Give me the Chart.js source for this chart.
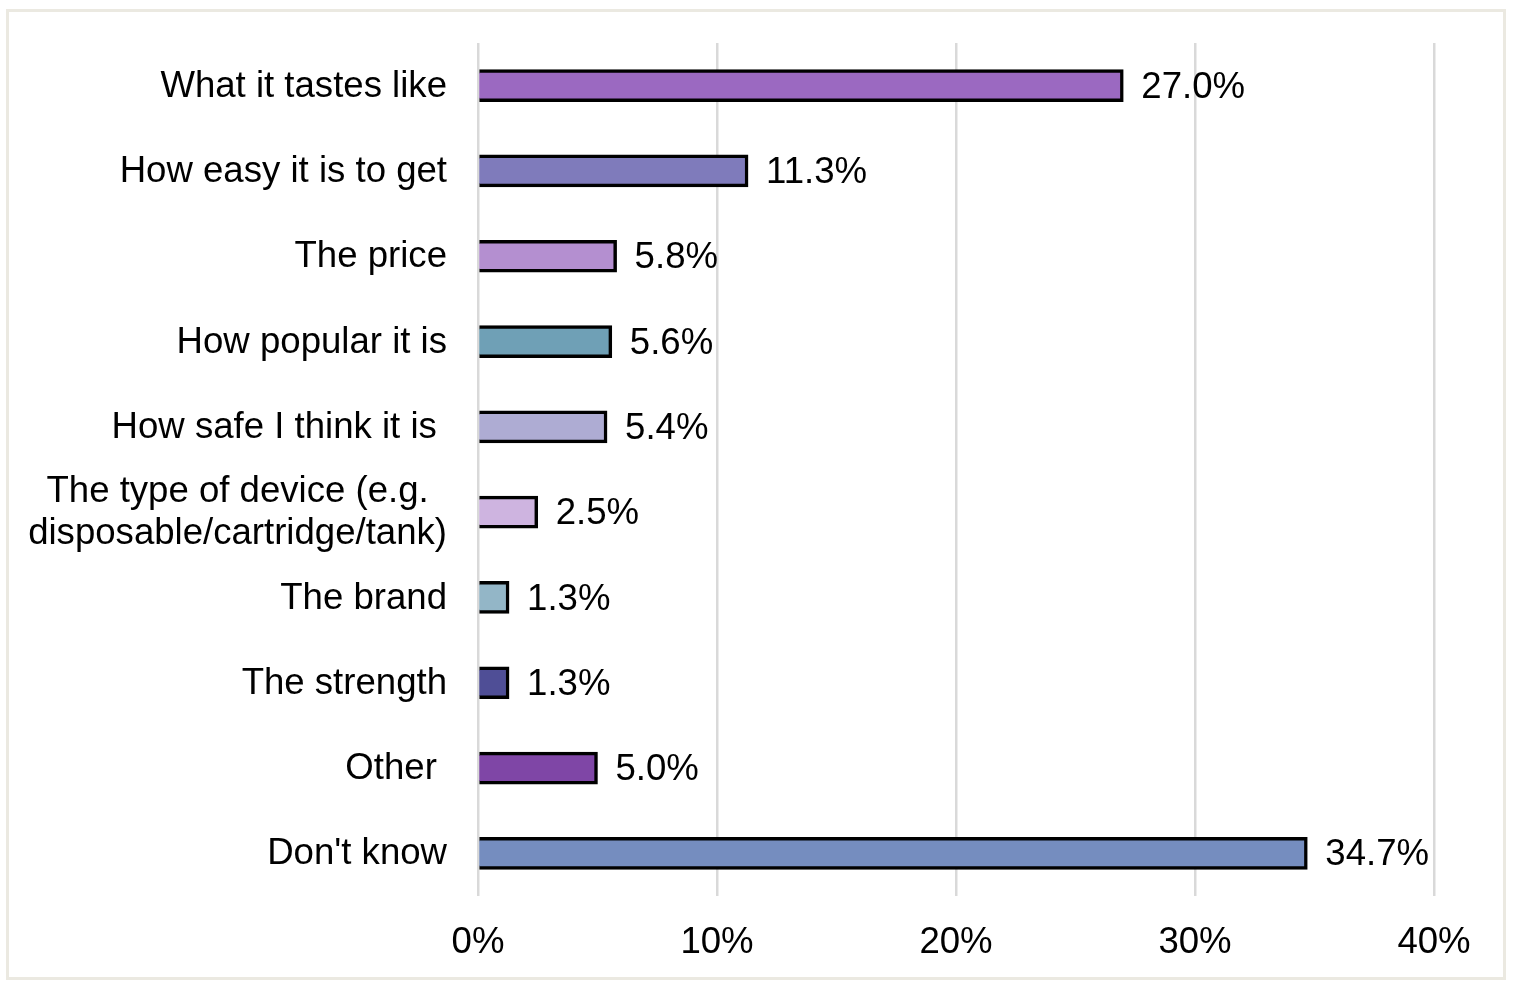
<!DOCTYPE html>
<html>
<head>
<meta charset="utf-8">
<script src="https://cdn.jsdelivr.net/npm/chart.js@4"></script>
<style>
  html, body { margin: 0; padding: 0; background: #fff; }
  #wrap { position: relative; width: 1514px; height: 990px; }
  #frame {
    position: absolute; left: 6px; top: 9px; width: 1500px; height: 971px;
    box-sizing: border-box; border: 3px solid #ebe9e1; pointer-events: none;
  }
  canvas { position: absolute; left: 0; top: 0; }
</style>
</head>
<body>
<div id="wrap">
  <canvas id="chart" width="1514" height="990"></canvas>
  <div id="frame"></div>
</div>
<script>
// Chart data
const categories = [
  'What it tastes like',
  'How easy it is to get',
  'The price',
  'How popular it is',
  'How safe I think it is ',
  ['The type of device (e.g.', 'disposable/cartridge/tank)'],
  'The brand',
  'The strength',
  'Other ',
  "Don't know"
];
const values = [27.0, 11.3, 5.8, 5.6, 5.4, 2.5, 1.3, 1.3, 5.0, 34.7];
const barColors = [
  '#9b69c1', '#7f7bbb', '#b48fd0', '#6fa0b6', '#aeacd3',
  '#ceb4e0', '#93b6c7', '#4f4e96', '#7f46a6', '#758dbf'
];
const xTicks = [0, 10, 20, 30, 40];

const FONT = '"Liberation Sans", Arial, sans-serif';
const FONT_SIZE = 36.6;

// Category labels: right aligned, wrapped labels centred as a block
const categoryLabels = {
  id: 'categoryLabels',
  afterDraw(chart) {
    const { ctx, scales } = chart;
    const y = scales.y;
    const right = chart.chartArea.left - 31;
    ctx.save();
    ctx.font = FONT_SIZE + 'px ' + FONT;
    ctx.fillStyle = '#000';
    ctx.textBaseline = 'middle';
    categories.forEach((label, i) => {
      const cy = y.getPixelForValue(i) + 1;
      if (Array.isArray(label)) {
        const w = Math.max(...label.map(l => ctx.measureText(l).width));
        const cx = right - w / 2;
        const lh = 42;
        ctx.textAlign = 'center';
        label.forEach((line, j) => {
          ctx.fillText(line, cx, cy + (j - (label.length - 1) / 2) * lh);
        });
      } else {
        ctx.textAlign = 'right';
        ctx.fillText(label, right, cy);
      }
    });
    ctx.restore();
  }
};

// Value labels at the end of each bar
const valueLabels = {
  id: 'valueLabels',
  afterDatasetsDraw(chart) {
    const { ctx } = chart;
    const meta = chart.getDatasetMeta(0);
    ctx.save();
    ctx.font = FONT_SIZE + 'px ' + FONT;
    ctx.fillStyle = '#000';
    ctx.textAlign = 'left';
    ctx.textBaseline = 'middle';
    meta.data.forEach((bar, i) => {
      ctx.fillText(values[i].toFixed(1) + '%', bar.x + 18, bar.y + 2);
    });
    ctx.restore();
  }
};

const ctx = document.getElementById('chart').getContext('2d');
new Chart(ctx, {
  type: 'bar',
  data: {
    labels: categories,
    datasets: [{
      data: values,
      backgroundColor: barColors,
      borderColor: '#000',
      borderWidth: 3.5,
      borderSkipped: 'start',
      barThickness: 32
    }]
  },
  options: {
    indexAxis: 'y',
    responsive: false,
    animation: false,
    layout: { padding: { top: 43, right: 80, left: 0, bottom: 0 } },
    plugins: {
      legend: { display: false },
      tooltip: { enabled: false }
    },
    scales: {
      x: {
        min: xTicks[0],
        max: xTicks[xTicks.length - 1],
        afterBuildTicks: scale => {
          scale.ticks = xTicks.map(v => ({ value: v }));
        },
        afterFit: scale => { scale.height = 94; },
        grid: { color: '#d9d9d9', lineWidth: 2.5, drawTicks: false },
        border: { display: false },
        ticks: {
          color: '#000',
          padding: 25,
          font: { size: FONT_SIZE, family: FONT },
          callback: v => v + '%'
        }
      },
      y: {
        afterFit: scale => { scale.width = 478; },
        grid: { display: false },
        border: { display: false },
        ticks: { display: false }
      }
    }
  },
  plugins: [categoryLabels, valueLabels]
});
</script>
</body>
</html>
